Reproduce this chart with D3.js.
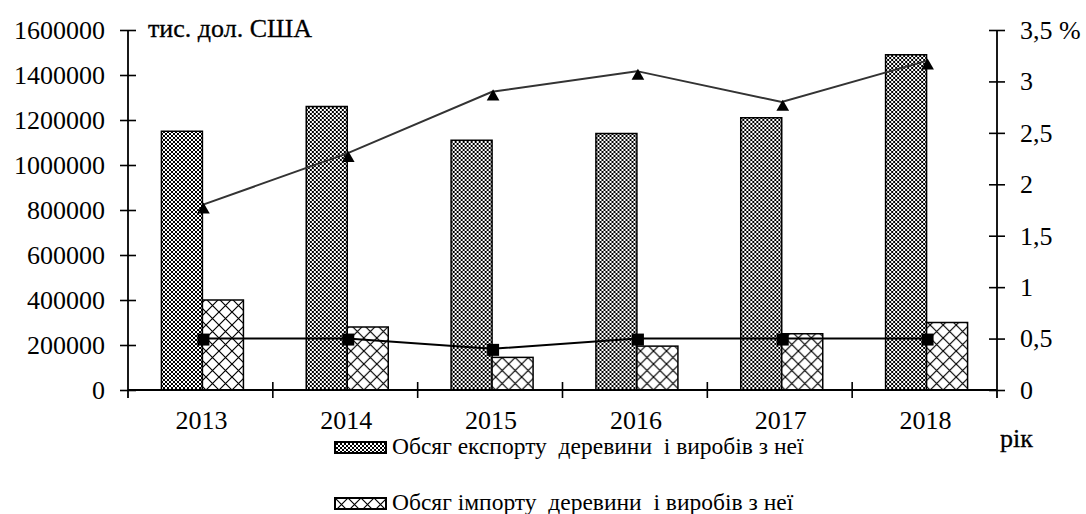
<!DOCTYPE html>
<html>
<head>
<meta charset="utf-8">
<script src="https://cdn.jsdelivr.net/npm/d3@7"></script>
<style>
  html, body { margin: 0; padding: 0; background: #fff; }
  svg { display: block; }
  svg text { fill: #000; font-family: "Liberation Serif", "Times New Roman", serif; }
  .pre { white-space: pre; }
</style>
</head>
<body>
<svg id="chart" width="1086" height="514"></svg>
<script>
// Timber trade of Ukraine, 2013–2018
const years = ["2013", "2014", "2015", "2016", "2017", "2018"];
const exportValues = [1150000, 1260000, 1110000, 1140000, 1210000, 1490000]; // тис. дол. США
const importValues = [400000, 280000, 145000, 195000, 250000, 300000];       // тис. дол. США
const exportShare = [1.8, 2.3, 2.9, 3.1, 2.8, 3.2]; // %
const importShare = [0.5, 0.5, 0.4, 0.5, 0.5, 0.5]; // %
const leftTicks = [0, 200000, 400000, 600000, 800000, 1000000, 1200000, 1400000, 1600000];
const rightTicks = [0, 0.5, 1, 1.5, 2, 2.5, 3, 3.5];
const legendLabels = [
  "Обсяг експорту  деревини  і виробів з неї",
  "Обсяг імпорту  деревини  і виробів з неї"
];

const FONT = "Liberation Serif, Times New Roman, serif";
const svg = d3.select("#chart").attr("font-family", FONT);
const plotLeft = 128, plotRight = 997, plotTop = 30, plotBottom = 390;

const x0 = d3.scaleBand().domain(years).range([plotLeft, plotRight]).paddingInner(0).paddingOuter(0);
const x1 = d3.scaleBand().domain(["export", "import"])
  .range([2, x0.bandwidth() + 2]).paddingInner(0).paddingOuter(0.766);
const yL = d3.scaleLinear().domain([0, 1600000]).range([plotBottom, plotTop]);
const yR = d3.scaleLinear().domain([0, 3.5]).range([plotBottom, plotTop]);

// Fill patterns
const defs = svg.append("defs");
const pExp = defs.append("pattern").attr("id", "pExport")
  .attr("patternUnits", "userSpaceOnUse").attr("width", 4).attr("height", 4);
pExp.append("rect").attr("width", 4).attr("height", 4).attr("fill", "#fff");
pExp.append("path").attr("d", "M0,0L4,4M4,0L0,4M-1,1L1,-1M3,5L5,3M-1,3L1,5M3,-1L5,1")
  .attr("stroke", "#000").attr("stroke-width", 1);

const pImp = defs.append("pattern").attr("id", "pImport")
  .attr("patternUnits", "userSpaceOnUse").attr("width", 13).attr("height", 13);
pImp.append("rect").attr("width", 13).attr("height", 13).attr("fill", "#fff");
pImp.append("path").attr("d", "M0,0L13,13M13,0L0,13")
  .attr("stroke", "#000").attr("stroke-width", 1.2);

// Bars
const groups = svg.append("g").selectAll("g").data(years).join("g")
  .attr("transform", d => `translate(${x0(d)},0)`);
groups.append("rect")
  .attr("x", x1("export")).attr("width", x1.bandwidth())
  .attr("y", (d, i) => yL(exportValues[i]))
  .attr("height", (d, i) => plotBottom - yL(exportValues[i]))
  .attr("fill", "url(#pExport)").attr("stroke", "#000").attr("stroke-width", 1.5);
groups.append("rect")
  .attr("x", x1("import")).attr("width", x1.bandwidth())
  .attr("y", (d, i) => yL(importValues[i]))
  .attr("height", (d, i) => plotBottom - yL(importValues[i]))
  .attr("fill", "url(#pImport)").attr("stroke", "#000").attr("stroke-width", 1.5);

// Axes
const fmtR = v => (v === 3.5 ? "3,5 %" : String(v).replace(".", ","));

const axL = svg.append("g").attr("transform", `translate(${plotLeft},0)`)
  .call(d3.axisLeft(yL).tickValues(leftTicks).tickFormat(d3.format("d")).tickSize(8).tickPadding(15));
const axR = svg.append("g").attr("transform", `translate(${plotRight},0)`)
  .call(d3.axisRight(yR).tickValues(rightTicks).tickFormat(fmtR).tickSize(8).tickPadding(15));
[axL, axR].forEach(ax => {
  ax.attr("font-family", FONT).attr("font-size", 26);
  ax.select(".domain").remove();
  ax.selectAll(".tick line").attr("x1", -8).attr("x2", 8).attr("stroke", "#000").attr("stroke-width", 1.6);
  ax.selectAll(".tick text").attr("fill", "#000");
  ax.append("line").attr("x1", 0).attr("x2", 0).attr("y1", plotTop).attr("y2", plotBottom + 8)
    .attr("stroke", "#000").attr("stroke-width", 1.8);
});

// Category axis with boundary ticks
svg.append("line").attr("x1", plotLeft).attr("x2", plotRight).attr("y1", plotBottom).attr("y2", plotBottom)
  .attr("stroke", "#000").attr("stroke-width", 1.8);
svg.append("g").selectAll("line").data(years.slice(1)).join("line")
  .attr("x1", d => x0(d)).attr("x2", d => x0(d))
  .attr("y1", plotBottom - 8).attr("y2", plotBottom + 8)
  .attr("stroke", "#000").attr("stroke-width", 1.6);
svg.append("g").selectAll("text").data(years).join("text")
  .attr("x", d => x0(d) + x0.bandwidth() / 2 + 1).attr("y", plotBottom + 39)
  .attr("text-anchor", "middle").attr("font-size", 26).text(d => d);

// Share lines
const px = d => x0(d) + x1("import");
const lineR = vals => d3.line().x((d, i) => px(d)).y((d, i) => yR(vals[i]))(years);

svg.append("path").attr("d", lineR(exportShare)).attr("fill", "none")
  .attr("stroke", "#333").attr("stroke-width", 2);
svg.append("path").attr("d", lineR(importShare)).attr("fill", "none")
  .attr("stroke", "#000").attr("stroke-width", 2);

svg.append("g").selectAll("path").data(years).join("path")
  .attr("d", d3.symbol(d3.symbolTriangle, 70))
  .attr("transform", (d, i) => `translate(${px(d) + 1},${yR(exportShare[i]) + 5})`)
  .attr("fill", "#000");
svg.append("g").selectAll("rect").data(years).join("rect")
  .attr("x", (d, i) => px(d) - 5).attr("y", (d, i) => yR(importShare[i]) - 5)
  .attr("width", 12).attr("height", 12).attr("fill", "#000");

// Axis titles
svg.append("text").attr("x", 148).attr("y", 37).attr("font-size", 26)
  .attr("stroke", "#000").attr("stroke-width", 0.3).text("тис. дол. США");
svg.append("text").attr("x", 1000).attr("y", 447).attr("font-size", 26)
  .attr("stroke", "#000").attr("stroke-width", 0.3).text("рік");

// Legend
const legend = svg.append("g").selectAll("g").data(legendLabels).join("g")
  .attr("transform", (d, i) => `translate(335,${442 + i * 56})`);
legend.append("rect").attr("width", 51).attr("height", 11)
  .attr("fill", (d, i) => i === 0 ? "url(#pExport)" : "url(#pImport)")
  .attr("stroke", "#000").attr("stroke-width", 2);
legend.append("text").attr("class", "pre").attr("x", 57).attr("y", 12)
  .attr("font-size", 23.5).text(d => d);
</script>
</body>
</html>
